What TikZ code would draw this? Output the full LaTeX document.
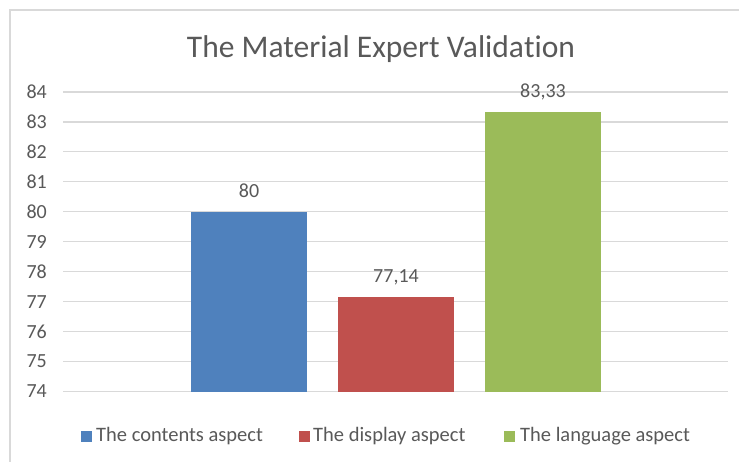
\documentclass[tikz,border=0pt]{standalone}
\usepackage{fontspec}
\setmainfont{Carlito}[RawFeature=-liga]
\definecolor{txt}{HTML}{595959}
\definecolor{grid}{HTML}{D9D9D9}
\definecolor{bblue}{HTML}{4F81BD}
\definecolor{bred}{HTML}{C0504D}
\definecolor{bgreen}{HTML}{9BBB59}
\begin{document}
\begin{tikzpicture}[x=1pt,y=-1pt,
  lbl/.style={text=txt,font=\fontsize{20pt}{24pt}\selectfont,inner sep=0pt},
  ylbl/.style={lbl,anchor=east},
  leg/.style={lbl,anchor=west,font=\fontsize{20.5pt}{24pt}\selectfont},
  key/.style={minimum size=11pt,inner sep=0pt,draw=none},
  gridline/.style={grid,line width=1.2pt}]
\useasboundingbox (0,0) rectangle (739,462);
\fill[white] (0,0) rectangle (739,462);
% chart border
\draw[grid,line width=2pt] (10,462) -- (10,10) -- (739,10);
% title
\node[lbl,font=\fontsize{31.5pt}{36pt}\selectfont] (title) at (381,49) {The Material Expert Valida\kern0pt tion};
% gridlines and axis labels
\foreach \v [count=\i from 0] in {74,...,84}{
  \pgfmathsetmacro{\yy}{391.5-\i*29.95}
  \draw[gridline] (63,\yy) -- (728,\yy);
  \node[ylbl] (y\v) at (47,\yy) {\v};
}
% bars
\fill[bblue] (191,391.5) rectangle (307,211.8);
\fill[bred] (338,391.5) rectangle (454,297.5);
\fill[bgreen] (485,391.5) rectangle (601,112.1);
% data labels
\node[lbl] (d1) at (249,191) {80};
\node[lbl] (d2) at (396,277) {77,14};
\node[lbl] (d3) at (543,92) {83,33};
% legend
\node[key,fill=bblue] (k1) at (86,436) {};
\node[leg] (l1) at (96,436) {The contents aspect};
\node[key,fill=bred] (k2) at (304,436) {};
\node[leg] (l2) at (313,436) {The display aspect};
\node[key,fill=bgreen] (k3) at (509,436) {};
\node[leg] (l3) at (520,436) {The language aspect};
\end{tikzpicture}
\end{document}
